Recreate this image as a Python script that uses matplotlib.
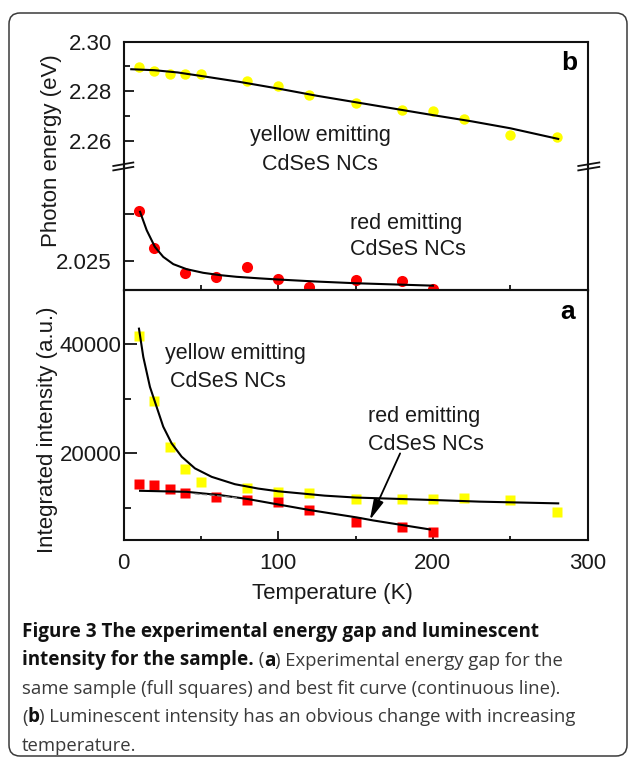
import matplotlib
matplotlib.use("Agg")
import matplotlib.pyplot as plt
from matplotlib.patches import FancyBboxPatch
from matplotlib.lines import Line2D
from matplotlib.ticker import FixedLocator, MultipleLocator
from matplotlib.transforms import IdentityTransform

plt.rcParams['font.family'] = ['Liberation Sans', 'DejaVu Sans']

W, H, DPI = 629, 757, 100

# ---------------- data ----------------
# panel b, upper part: yellow emitting NCs, photon energy (eV)
T_yellow_b = [10, 20, 30, 40, 50, 80, 100, 120, 150, 180, 200, 220, 250, 280]
E_yellow_b = [2.2899, 2.2883, 2.2870, 2.2870, 2.2870, 2.2843, 2.2821, 2.2785,
              2.2752, 2.2725, 2.2721, 2.2687, 2.2624, 2.2615]
T_yellow_b_fit = [5, 20, 35, 50, 75, 100, 125, 150, 175, 200, 225, 250, 281]
E_yellow_b_fit = [2.2889, 2.2885, 2.2876, 2.2862, 2.2838, 2.2811, 2.2782,
                  2.2756, 2.2730, 2.2704, 2.2679, 2.2651, 2.2608]

# panel b, lower part: red emitting NCs
T_red_b = [10, 20, 40, 60, 80, 100, 120, 150, 180, 200]
E_red_b = [2.0303, 2.0264, 2.0237, 2.0233, 2.0243, 2.0230, 2.0222, 2.0229,
           2.0228, 2.0220]
T_red_b_fit = [10.7, 15, 20.3, 25.7, 32.2, 40.8, 51.5, 62.3, 73.1, 88.2, 100,
               125, 150, 200]
E_red_b_fit = [2.03025, 2.02827, 2.02648, 2.02541, 2.02463, 2.02409, 2.0237,
               2.02345, 2.02327, 2.0231, 2.02298, 2.02276, 2.02258, 2.02232]

# panel a: integrated intensity (a.u.)
T_yellow_a = [10, 20, 30, 40, 50, 80, 100, 120, 150, 180, 200, 220, 250, 280]
I_yellow_a = [41600, 29600, 21200, 17100, 14700, 13600, 12950, 12650, 11650,
              11650, 11650, 11800, 11430, 9290]
T_yellow_a_fit = [10, 12.8, 17.1, 21.4, 25.7, 31.1, 37.6, 46.2, 57, 72, 87,
                  100, 130, 150, 200, 230, 281]
I_yellow_a_fit = [42900, 37700, 32200, 28550, 24900, 21850, 19400, 17250,
                  15700, 14350, 13550, 13050, 12250, 11900, 11450, 11150, 10830]

T_red_a = [10, 20, 30, 40, 60, 80, 100, 120, 150, 180, 200]
I_red_a = [14350, 14200, 13550, 12660, 11930, 11430, 11060, 9530, 7400, 6420,
           5500]
T_red_a_fit = [10.7, 40.8, 62.3, 80.6, 100.6, 120.5, 150.6, 161.4, 198]
I_red_a_fit = [13140, 12950, 12350, 11615, 10600, 9600, 8260, 7700, 6050]
T_red_a_dash = [46, 60, 75]
I_red_a_dash = [12600, 12250, 11800]

# arrow (tail, head) in panel-a data units
arrow_tail = (178.8, 20000)
arrow_head = (159.2, 7768)

x_ticks = [0, 100, 200, 300]
y_ticks_top = [2.26, 2.28, 2.30]
y_ticks_mid = [2.025, 2.030]
y_ticklabels_mid = ["2.025", ""]
y_ticks_bot = [20000, 40000]

caption_lines = [
    [("Figure 3 The experimental energy gap and luminescent", "bold")],
    [("intensity for the sample.", "bold"), (" (", "normal"), ("a", "bold"),
     (") Experimental energy gap for the", "normal")],
    [("same sample (full squares) and best fit curve (continuous line).", "normal")],
    [("(", "normal"), ("b", "bold"),
     (") Luminescent intensity has an obvious change with increasing", "normal")],
    [("temperature.", "normal")],
]

# ---------------- figure ----------------
fig = plt.figure(figsize=(W / DPI, H / DPI), dpi=DPI)
fig.patch.set_facecolor('white')


def rect(x0, x1, y0, y1):
    return [x0 / W, 1 - y1 / H, (x1 - x0) / W, (y1 - y0) / H]


L, R = 123.5, 587.6
ax_top = fig.add_axes(rect(L, R, 41.7, 165.7))
ax_mid = fig.add_axes(rect(L, R, 165.7, 290.5))
ax_bot = fig.add_axes(rect(L, R, 290.5, 539.5))

YEL = '#FFFF00'
RED = '#FF0000'
TXT = '#1a1a1a'
SP_LW = 1.5

for ax in (ax_top, ax_mid, ax_bot):
    ax.set_xlim(0, 300)
    for s in ax.spines.values():
        s.set_linewidth(SP_LW)
        s.set_color('#111111')
    ax.set_facecolor('none')

ax_top.spines['bottom'].set_visible(False)
ax_mid.spines['top'].set_visible(False)

# top (yellow energy)
ax_top.plot(T_yellow_b_fit, E_yellow_b_fit, color='k', lw=1.5, zorder=3)
ax_top.plot(T_yellow_b, E_yellow_b, 'o', color=YEL, ms=7.5, mec='none', zorder=2)
ax_top.set_ylim(2.25, 2.30)
ax_top.yaxis.set_major_locator(FixedLocator(y_ticks_top))
ax_top.yaxis.set_minor_locator(FixedLocator([2.27, 2.29]))
ax_top.set_yticklabels([f"{v:.2f}" for v in y_ticks_top])
ax_top.tick_params(axis='x', which='both', bottom=False, top=False,
                   labelbottom=False)

# middle (red energy)
ax_mid.plot(T_red_b_fit, E_red_b_fit, color='k', lw=1.5, zorder=3)
ax_mid.plot(T_red_b, E_red_b, 'o', color=RED, ms=8, mec='none', zorder=2)
ax_mid.set_ylim(2.0218, 2.0352)
ax_mid.yaxis.set_major_locator(FixedLocator(y_ticks_mid))
ax_mid.set_yticklabels(y_ticklabels_mid)
ax_mid.xaxis.set_major_locator(MultipleLocator(100))
ax_mid.xaxis.set_minor_locator(MultipleLocator(50))
ax_mid.tick_params(axis='x', which='both', direction='in', bottom=True,
                   top=False, labelbottom=False, width=1.2)
ax_mid.tick_params(axis='x', which='major', length=4.5)
ax_mid.tick_params(axis='x', which='minor', length=3.5)

for ax in (ax_top, ax_mid):
    ax.tick_params(axis='y', which='both', direction='in', left=True,
                   right=False, labelsize=16, pad=8.5, width=1.2,
                   labelcolor=TXT)
    ax.tick_params(axis='y', which='major', length=7.5)
    ax.tick_params(axis='y', which='minor', length=4.5)

# bottom (intensity)
ax_bot.plot(T_yellow_a_fit, I_yellow_a_fit, color='k', lw=1.5, zorder=3)
ax_bot.plot(T_red_a_fit, I_red_a_fit, color='k', lw=1.5, zorder=3)
ax_bot.plot(T_red_a_dash, I_red_a_dash, color='#777777', lw=0.9,
            ls=(0, (4, 2)), zorder=3)
ax_bot.plot(T_yellow_a, I_yellow_a, 's', color=YEL, ms=7.2, mec='none', zorder=2)
ax_bot.plot(T_red_a, I_red_a, 's', color=RED, ms=7.2, mec='none', zorder=2)
ax_bot.set_ylim(4200, 49900)
ax_bot.yaxis.set_major_locator(FixedLocator(y_ticks_bot))
ax_bot.yaxis.set_minor_locator(FixedLocator([10000, 30000]))
ax_bot.set_yticklabels([str(v) for v in y_ticks_bot])
ax_bot.xaxis.set_major_locator(FixedLocator(x_ticks))
ax_bot.xaxis.set_minor_locator(MultipleLocator(50))
ax_bot.set_xticklabels([str(v) for v in x_ticks])
ax_bot.tick_params(axis='both', which='both', direction='in', top=False,
                   right=False, labelsize=16, width=1.2, labelcolor=TXT)
ax_bot.tick_params(axis='y', which='major', length=9, pad=1.5)
ax_bot.tick_params(axis='y', which='minor', length=5)
ax_bot.tick_params(axis='x', which='major', length=6.5, pad=9.5)
ax_bot.tick_params(axis='x', which='minor', length=3)

ax_bot.annotate('', xy=arrow_head, xytext=arrow_tail,
                arrowprops=dict(arrowstyle='-|>,head_length=0.9,head_width=0.22',
                                color='k', lw=1.3, shrinkA=0, shrinkB=0,
                                mutation_scale=14), zorder=4)

# ---------------- text in pixel space ----------------
def ftext(x, y, s, **kw):
    kw.setdefault('color', TXT)
    fig.text(x / W, 1 - y / H, s, **kw)


AFS = 15.5
ftext(320, 136, "yellow emitting", fontsize=AFS, ha='center', va='center')
ftext(320, 164, "CdSeS NCs", fontsize=AFS, ha='center', va='center')
ftext(350, 223.3, "red emitting", fontsize=AFS, ha='left', va='center')
ftext(350, 249.3, "CdSeS NCs", fontsize=AFS, ha='left', va='center')
ftext(569, 62.5, "b", fontsize=19, fontweight='bold', ha='center', va='center',
      color='k')

ftext(165, 353.3, "yellow emitting", fontsize=AFS, ha='left', va='center')
ftext(170, 381.7, "CdSeS NCs", fontsize=AFS, ha='left', va='center')
ftext(368.5, 416.7, "red emitting", fontsize=AFS, ha='left', va='center')
ftext(368.5, 444.5, "CdSeS NCs", fontsize=AFS, ha='left', va='center')
ftext(568, 311.7, "a", fontsize=19, fontweight='bold', ha='center', va='center',
      color='k')

ftext(52, 150.8, "Photon energy (eV)", fontsize=16, rotation=90,
      ha='center', va='center')
ftext(48, 430, "Integrated intensity (a.u.)", fontsize=16, rotation=90,
      ha='center', va='center')
ftext(332, 593.3, "Temperature (K)", fontsize=16, ha='center', va='center')

# break marks
for (x0, x1) in ((113.3, 133.3), (578.3, 599.3)):
    for (ya, yb) in ((166.0, 162.5), (170.4, 166.9)):
        fig.add_artist(Line2D([x0 / W, x1 / W], [1 - ya / H, 1 - yb / H],
                              transform=fig.transFigure, color='#111111',
                              lw=1.3))

# rounded frame
frame = FancyBboxPatch((9, 1), 618, 743, boxstyle="round,pad=0,rounding_size=11",
                       transform=IdentityTransform(), fill=False,
                       edgecolor='#3a3a3a', lw=1.1)
fig.add_artist(frame)

# caption
fig.canvas.draw()
renderer = fig.canvas.get_renderer()
CFS = {'bold': 13.6, 'normal': 13.3}
cap_font = ['Open Sans', 'DejaVu Sans']
baselines = [636.5, 665.5, 694, 722.5, 751]
for line, yb in zip(caption_lines, baselines):
    x = 22.0
    for s, wt in line:
        t = fig.text(x / W, 1 - yb / H, s, fontsize=CFS[wt], fontweight=wt,
                     family=cap_font, ha='left', va='baseline',
                     color='#111111' if wt == 'bold' else '#3a3a3a')
        bb = t.get_window_extent(renderer=renderer)
        x += bb.width

fig.savefig('out.png', dpi=DPI, facecolor='white')
